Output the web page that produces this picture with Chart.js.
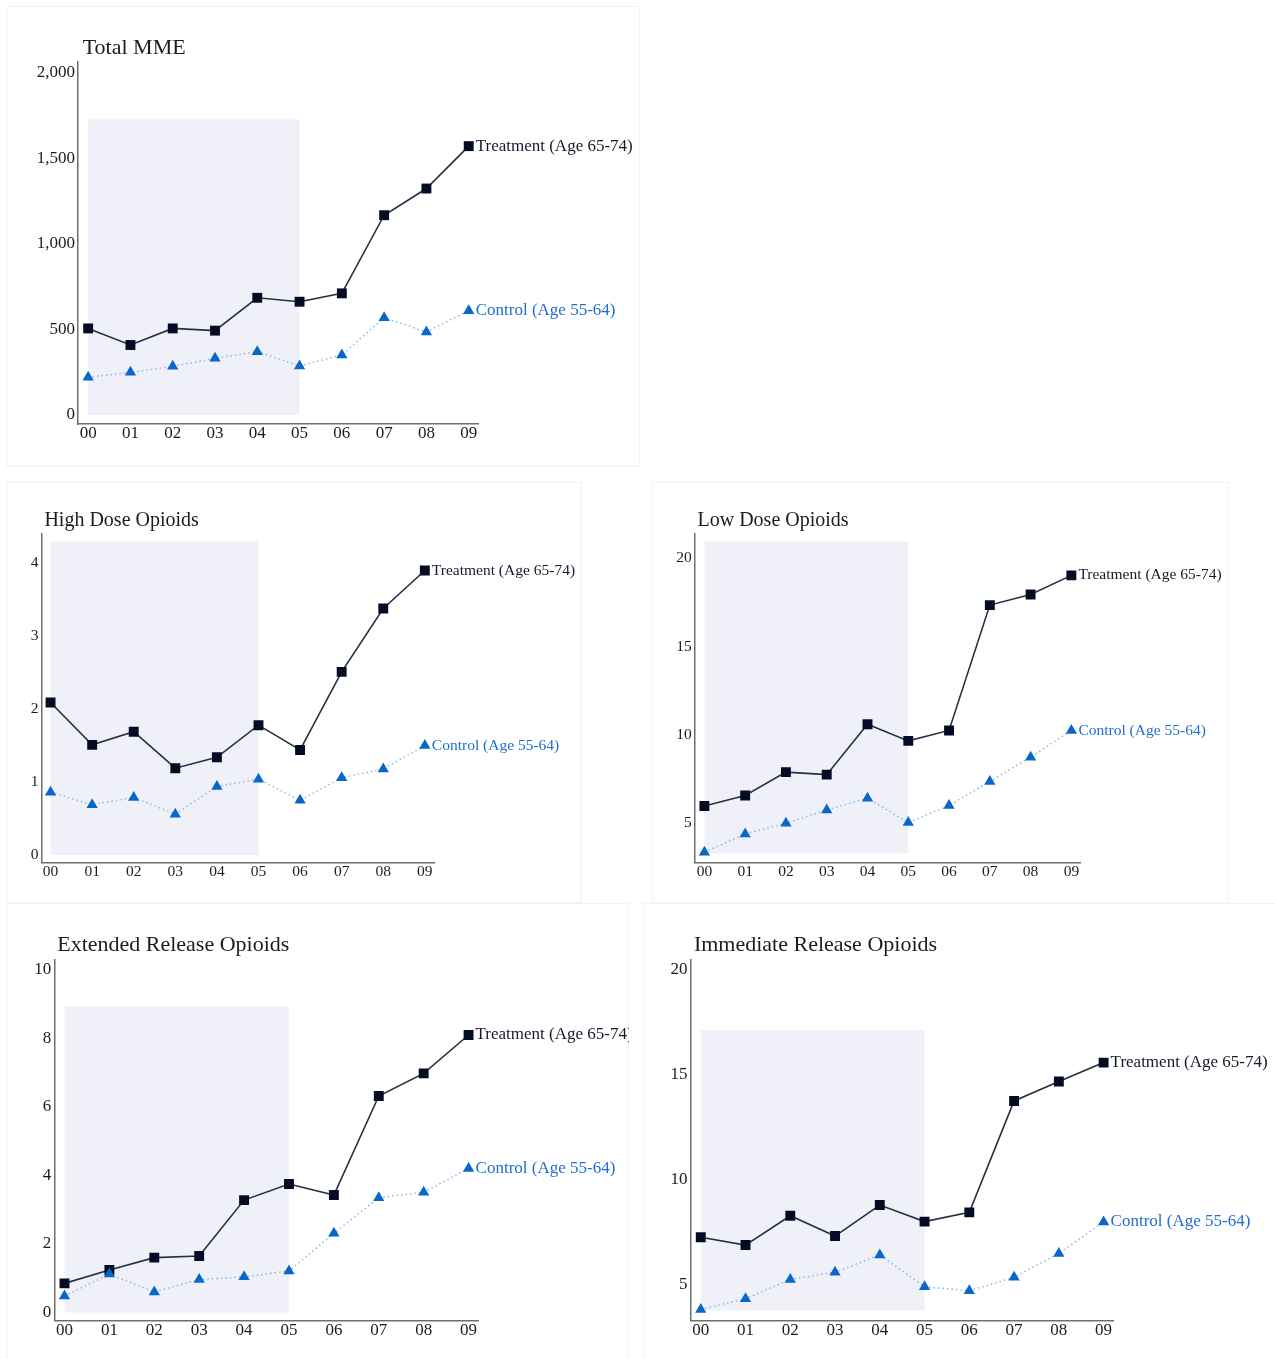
<!DOCTYPE html>
<html>
<head>
<meta charset="utf-8">
<title>Opioid use by dose and release type, 2000–2009</title>
<script src="https://cdn.jsdelivr.net/npm/chart.js@4.4.1/dist/chart.umd.min.js"></script>
<style>
  html, body { margin: 0; padding: 0; background: #fff; }
  body { width: 1275px; height: 1359px; position: relative; overflow: hidden; }
  .card { position: absolute; box-sizing: border-box; border: 1px solid #f3f3f3; background: #fff; }
  .card canvas { position: absolute; left: -1px; top: -1px; }
</style>
</head>
<body>
<script>
// ---- data -------------------------------------------------------------
const years = ['00', '01', '02', '03', '04', '05', '06', '07', '08', '09'];
const treatLabel = 'Treatment (Age 65-74)';
const controlLabel = 'Control (Age 55-64)';

const totalTreat = [506, 409, 506, 493, 685, 662, 711, 1168, 1324, 1572];
const totalCtrl  = [220, 249, 284, 331, 370, 286, 351, 569, 485, 610];
const totalTicks = [0, 500, 1000, 1500, 2000];

const highTreat = [2.09, 1.51, 1.69, 1.19, 1.34, 1.78, 1.44, 2.51, 3.38, 3.90];
const highCtrl  = [0.86, 0.69, 0.79, 0.56, 0.94, 1.04, 0.75, 1.06, 1.18, 1.50];
const highTicks = [0, 1, 2, 3, 4];

const lowTreat = [5.98, 6.57, 7.89, 7.75, 10.60, 9.66, 10.25, 17.34, 17.94, 19.02];
const lowCtrl  = [3.36, 4.40, 5.00, 5.75, 6.42, 5.04, 6.00, 7.36, 8.74, 10.25];
const lowTicks = [5, 10, 15, 20];

const extTreat = [0.85, 1.24, 1.60, 1.65, 3.28, 3.75, 3.43, 6.32, 6.98, 8.10];
const extCtrl  = [0.48, 1.12, 0.60, 0.96, 1.04, 1.21, 2.31, 3.35, 3.51, 4.20];
const extTicks = [0, 2, 4, 6, 8, 10];

const immTreat = [7.23, 6.86, 8.26, 7.29, 8.77, 7.98, 8.42, 13.74, 14.67, 15.57];
const immCtrl  = [3.79, 4.30, 5.22, 5.56, 6.39, 4.87, 4.68, 5.32, 6.46, 7.96];
const immTicks = [5, 10, 15, 20];

// pre-period band: first and last year, then value span per panel
const bandYears = ['00', '05'];
const totalBand = [0, 1729];
const highBand  = [0, 4.30];
const lowBand   = [3.30, 20.94];
const extBand   = [0, 8.93];
const immBand   = [3.73, 17.13];

// ---- styles -------------------------------------------------------------
const SERIF = '"Liberation Serif", "Times New Roman", Times, serif';
const INK = '#1c1c1c';
const AXIS = '#6e6e6e';
const BAND = '#f0f1f8';
const TREAT_LINE = '#262f42', TREAT_MARK = '#030c22', TREAT_TEXT = '#161b2c';
const CTRL_LINE = '#8ab7e8', CTRL_MARK = '#0a66c8', CTRL_TEXT = '#1f6fcf';

// ---- plugins ------------------------------------------------------------
const bandPlugin = {
  id: 'band',
  beforeDatasetsDraw(chart, args, opts) {
    const { x, y } = chart.scales;
    const x0 = x.getPixelForValue(years.indexOf(opts.years[0]));
    const x1 = x.getPixelForValue(years.indexOf(opts.years[1]));
    const y0 = y.getPixelForValue(opts.span[1]);
    const y1 = y.getPixelForValue(opts.span[0]);
    const ctx = chart.ctx;
    ctx.save();
    ctx.fillStyle = BAND;
    ctx.fillRect(x0, y0, x1 - x0, y1 - y0);
    ctx.restore();
  }
};

const tagPlugin = {
  id: 'endTags',
  afterDatasetsDraw(chart, args, opts) {
    const ctx = chart.ctx;
    ctx.save();
    ctx.font = opts.size + 'px ' + SERIF;
    ctx.textBaseline = 'middle';
    ctx.textAlign = 'left';
    chart.data.datasets.forEach((ds, i) => {
      const pts = chart.getDatasetMeta(i).data;
      const last = pts[pts.length - 1];
      ctx.fillStyle = ds.tagColor;
      ctx.fillText(ds.label, last.x + 7, last.y);
    });
    ctx.restore();
  }
};

const titlePlugin = {
  id: 'panelTitle',
  afterDraw(chart, args, opts) {
    const ctx = chart.ctx;
    ctx.save();
    ctx.font = opts.size + 'px ' + SERIF;
    ctx.fillStyle = INK;
    ctx.textBaseline = 'middle';
    ctx.textAlign = 'left';
    ctx.fillText(opts.text, opts.x, opts.y);
    ctx.restore();
  }
};

// ---- panels ---------------------------------------------------------------
// card: [left, top, width, height]; area: plot box [left, top, right, bottom] on the page
const panels = [
  { title: 'Total MME', treat: totalTreat, ctrl: totalCtrl, ticks: totalTicks, band: totalBand,
    yMin: -53, yMax: 2064, xMin: -0.24, xMax: 9.22,
    card: [6, 6, 634, 461], area: [78, 62, 478, 424], titleAt: [76.7, 42], big: true, commas: true },
  { title: 'High Dose Opioids', treat: highTreat, ctrl: highCtrl, ticks: highTicks, band: highBand,
    yMin: -0.105, yMax: 4.41, xMin: -0.22, xMax: 9.22,
    card: [6, 482, 576, 421], area: [41.4, 533.3, 434, 862.7], titleAt: [38.4, 38.7], big: false },
  { title: 'Low Dose Opioids', treat: lowTreat, ctrl: lowCtrl, ticks: lowTicks, band: lowBand,
    yMin: 2.77, yMax: 21.4, xMin: -0.235, xMax: 9.226,
    card: [652, 482, 577, 421], area: [694.8, 533.3, 1080.6, 862.7], titleAt: [45.5, 38.7], big: false },
  { title: 'Extended Release Opioids', treat: extTreat, ctrl: extCtrl, ticks: extTicks, band: extBand,
    yMin: -0.24, yMax: 10.31, xMin: -0.227, xMax: 9.21,
    card: [6, 903, 623, 460], area: [54.3, 959.3, 478, 1320.7], titleAt: [51.2, 42], big: true },
  { title: 'Immediate Release Opioids', treat: immTreat, ctrl: immCtrl, ticks: immTicks, band: immBand,
    yMin: 3.25, yMax: 20.5, xMin: -0.227, xMax: 9.21,
    card: [643, 903, 640, 460], area: [690.6, 959.3, 1113, 1320.7], titleAt: [50.9, 42], big: true }
];

function build(p) {
  const [cl, ct, cw, ch] = p.card;
  const card = document.createElement('div');
  card.className = 'card';
  card.style.left = cl + 'px';
  card.style.top = ct + 'px';
  card.style.width = cw + 'px';
  card.style.height = ch + 'px';
  const cv = document.createElement('canvas');
  cv.width = cw;
  cv.height = ch;
  cv.style.width = cw + 'px';
  cv.style.height = ch + 'px';
  card.appendChild(cv);
  document.body.appendChild(card);

  const relL = p.area[0] - cl, relT = p.area[1] - ct;
  const relR = p.area[2] - cl, relB = p.area[3] - ct;
  const fs = p.big ? 17 : 15.5;
  const ts = p.big ? 22 : 20;
  const tickFont = { family: SERIF, size: fs, lineHeight: 1 };
  const fmt = v => p.commas ? Number(v).toLocaleString('en-US') : String(v);

  new Chart(cv, {
    type: 'line',
    data: {
      datasets: [
        {
          label: treatLabel,
          data: p.treat.map((v, i) => ({ x: i, y: v })),
          order: 1,
          borderColor: TREAT_LINE,
          borderWidth: 1.6,
          tension: 0,
          pointStyle: 'rect',
          pointRadius: 7,
          pointBackgroundColor: TREAT_MARK,
          pointBorderColor: TREAT_MARK,
          pointBorderWidth: 0,
          tagColor: TREAT_TEXT
        },
        {
          label: controlLabel,
          data: p.ctrl.map((v, i) => ({ x: i, y: v })),
          order: 0,
          borderColor: CTRL_LINE,
          borderWidth: 1.5,
          borderDash: [1.5, 3],
          tension: 0,
          pointStyle: 'triangle',
          pointRadius: 6.5,
          pointBackgroundColor: CTRL_MARK,
          pointBorderColor: CTRL_MARK,
          pointBorderWidth: 0,
          tagColor: CTRL_TEXT
        }
      ]
    },
    options: {
      responsive: false,
      animation: false,
      devicePixelRatio: 1,
      events: [],
      layout: { padding: { left: 0, top: relT, right: cw - relR, bottom: 0 } },
      plugins: {
        legend: { display: false },
        tooltip: { enabled: false },
        title: { display: false },
        band: { years: bandYears, span: p.band },
        endTags: { size: fs },
        panelTitle: { text: p.title, x: p.titleAt[0], y: p.titleAt[1], size: ts }
      },
      scales: {
        x: {
          type: 'linear',
          min: p.xMin,
          max: p.xMax,
          grid: { display: false, drawTicks: false },
          border: { display: true, color: AXIS, width: 1.5 },
          ticks: { font: tickFont, color: INK, padding: 1.5, autoSkip: false, maxRotation: 0,
                   callback: v => years[v] },
          afterBuildTicks: s => { s.ticks = years.map((_, i) => ({ value: i })); },
          afterFit: s => { s.height = ch - relB; }
        },
        y: {
          type: 'linear',
          min: p.yMin,
          max: p.yMax,
          grid: { display: false, drawTicks: false },
          border: { display: true, color: AXIS, width: 1.5 },
          ticks: { font: tickFont, color: INK, padding: 3, callback: v => fmt(v) },
          afterBuildTicks: s => { s.ticks = p.ticks.map(v => ({ value: v })); },
          afterFit: s => { s.width = relL; }
        }
      }
    },
    plugins: [bandPlugin, tagPlugin, titlePlugin]
  });
}

panels.forEach(build);
</script>
</body>
</html>
